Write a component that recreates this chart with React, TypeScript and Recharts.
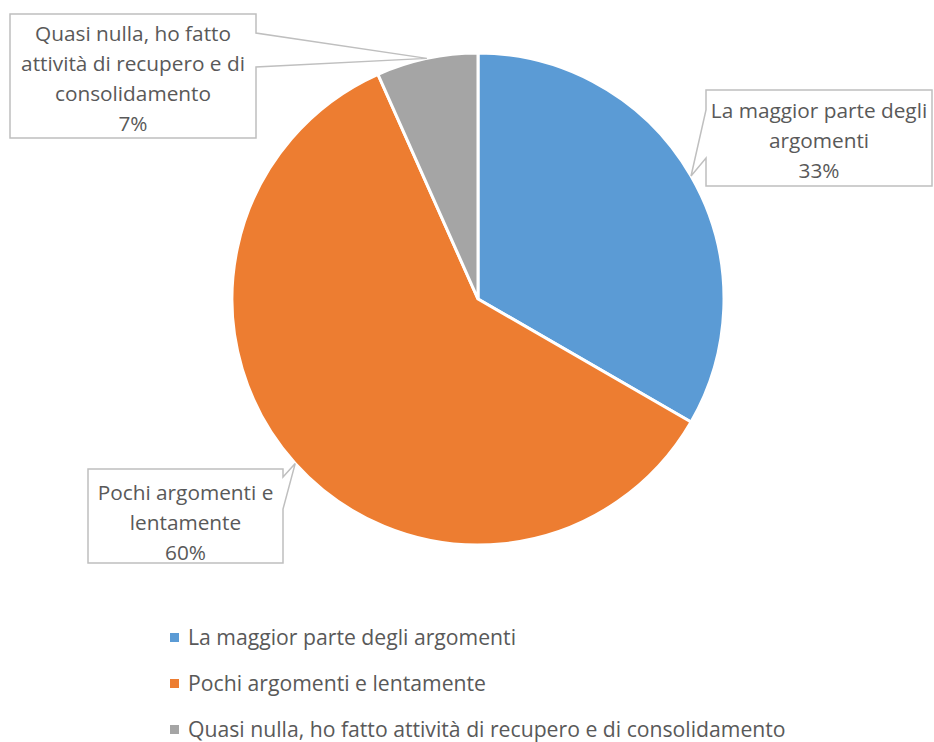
import React from 'react';
import { PieChart, Pie, Cell, Legend } from 'recharts';

const categories = [
  'La maggior parte degli argomenti',
  'Pochi argomenti e lentamente',
  'Quasi nulla, ho fatto attività di recupero e di consolidamento',
];
const values = [5, 9, 1];
const percentLabels = ['33%', '60%', '7%'];
const labelLines = [
  ['La maggior parte degli', 'argomenti'],
  ['Pochi argomenti e', 'lentamente'],
  ['Quasi nulla, ho fatto', 'attività di recupero e di', 'consolidamento'],
];

const colors = ['#5B9BD5', '#ED7D31', '#A5A5A5'];
const FONT = '"Open Sans", Lato, sans-serif';
const TEXT = '#595959';
const RADIAN = Math.PI / 180;

// callout boxes: rect + side where the pointer leaves + pointer base offsets
const boxes = [
  { x: 706, y: 90, w: 226, h: 96, side: 'left', b1: 20, b2: 68, firstY: 110 },
  { x: 88, y: 469, w: 195, h: 94, side: 'right', b1: 8, b2: 40, firstY: 492 },
  { x: 10, y: 14, w: 246, h: 124, side: 'right', b1: 19, b2: 53, firstY: 33 },
];

const data = categories.map((name, i) => ({ name, value: values[i] }));

function calloutPath(b: any, tx: number, ty: number) {
  const { x, y, w, h, side, b1, b2 } = b;
  if (side === 'left') {
    return `M${x},${y} L${x + w},${y} L${x + w},${y + h} L${x},${y + h} L${x},${y + b2} L${tx},${ty} L${x},${y + b1} Z`;
  }
  return `M${x},${y} L${x + w},${y} L${x + w},${y + b1} L${tx},${ty} L${x + w},${y + b2} L${x + w},${y + h} L${x},${y + h} Z`;
}

function renderLabel(props: any) {
  const { cx, cy, midAngle, outerRadius, index } = props;
  const tx = cx + outerRadius * Math.cos(-midAngle * RADIAN);
  const ty = cy + outerRadius * Math.sin(-midAngle * RADIAN);
  const b = boxes[index];
  const lines = [...labelLines[index], percentLabels[index]];
  return (
    <g key={`lbl-${index}`}>
      <path d={calloutPath(b, tx, ty)} fill="#fff" stroke="#BFBFBF" strokeWidth={1.5} />
      {lines.map((t, j) => (
        <text
          key={j}
          x={b.x + b.w / 2}
          y={b.firstY + j * 30}
          textAnchor="middle"
          dominantBaseline="central"
          fill={TEXT}
          fontSize={20.8}
          fontFamily={FONT}
        >
          {t}
        </text>
      ))}
    </g>
  );
}

function renderLegend() {
  return (
    <div style={{ fontFamily: FONT, fontSize: 21.2, color: TEXT }}>
      {data.map((d, i) => (
        <div
          key={d.name}
          style={{ display: 'flex', alignItems: 'center', height: 46, lineHeight: 1 }}
        >
          <div style={{ width: 9, height: 9, background: colors[i], marginRight: 9 }} />
          <span>{d.name}</span>
        </div>
      ))}
    </div>
  );
}

export default function App() {
  return (
    <div style={{ width: 934, height: 742, background: '#fff', overflow: 'hidden' }}>
      <style>{'body{margin:0}'}</style>
      <PieChart width={934} height={742} margin={{ top: 0, right: 0, bottom: 0, left: 0 }}>
        <Pie
          data={data}
          dataKey="value"
          nameKey="name"
          cx={478}
          cy={299}
          outerRadius={246}
          startAngle={90}
          endAngle={-270}
          stroke="#fff"
          strokeWidth={3}
          labelLine={false}
          label={renderLabel}
          isAnimationActive={false}
        >
          {data.map((_, i) => (
            <Cell key={`c-${i}`} fill={colors[i]} />
          ))}
        </Pie>
        <Legend
          content={renderLegend}
          wrapperStyle={{ position: 'absolute', left: 170, top: 614, width: 720, height: 126 }}
        />
      </PieChart>
    </div>
  );
}
